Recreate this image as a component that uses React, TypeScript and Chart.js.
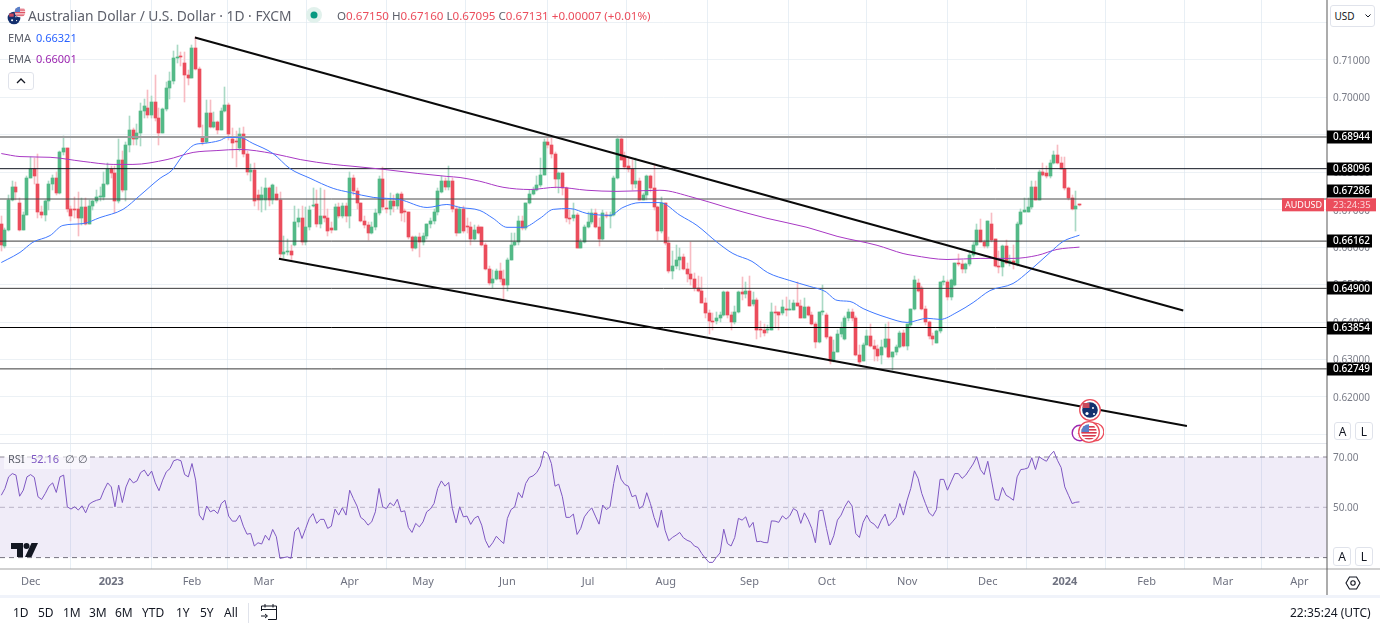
import React, { useEffect, useRef } from "react";
import { Chart, registerables } from "chart.js";

Chart.register(...registerables);

// [open, high, low, close]
const candlesWinter22 = [
  [0.6661,0.6682,0.6591,0.6605],[0.6602,0.6650,0.6597,0.6645],[0.6647,0.6738,0.6642,0.6727],[0.6727,0.6778,0.6722,0.6762],[0.6762,0.6773,0.6727,0.6746],
  [0.6717,0.6730,0.6642,0.6647],[0.6647,0.6693,0.6645,0.6687],[0.6687,0.6789,0.6685,0.6786],[0.6786,0.6842,0.6784,0.6810],[0.6810,0.6837,0.6770,0.6789],
  [0.6770,0.6850,0.6679,0.6693],[0.6695,0.6711,0.6679,0.6685],[0.6685,0.6725,0.6669,0.6722],[0.6722,0.6778,0.6698,0.6770],[0.6770,0.6794,0.6752,0.6784],
  [0.6784,0.6800,0.6738,0.6744],[0.6744,0.6858,0.6741,0.6853],[0.6853,0.6896,0.6845,0.6864],[0.6864,0.6866,0.6693,0.6701],[0.6701,0.6711,0.6671,0.6682],
  [0.6701,0.6735,0.6677,0.6698],[0.6701,0.6746,0.6629,0.6677],[0.6677,0.6730,0.6658,0.6706],[0.6706,0.6730,0.6658,0.6663],[0.6663,0.6725,0.6661,0.6709],
  [0.6709,0.6725,0.6698,0.6722],[0.6722,0.6752,0.6717,0.6733],[0.6733,0.6762,0.6722,0.6735],[0.6735,0.6800,0.6725,0.6770],[0.6770,0.6824,0.6765,0.6810],
  [0.6810,0.6818,0.6784,0.6797],[0.6797,0.6818,0.6690,0.6722],[0.6722,0.6888,0.6719,0.6834],[0.6834,0.6858,0.6746,0.6752],[0.6752,0.6880,0.6722,0.6872],
  [0.6872,0.6949,0.6853,0.6912],[0.6912,0.6917,0.6872,0.6888],[0.6888,0.6928,0.6874,0.6904],[0.6904,0.6984,0.6869,0.6963],[0.6963,0.6997,0.6944,0.6976],
  [0.6973,0.7019,0.6944,0.6952],[0.6952,0.7003,0.6944,0.6987],[0.6987,0.7061,0.6938,0.6944],[0.6944,0.6971,0.6872,0.6906],[0.6906,0.6973,0.6904,0.6968],
  [0.6968,0.7040,0.6965,0.7024],[0.7024,0.7067,0.6995,0.7043],[0.7043,0.7125,0.7037,0.7104],[0.7104,0.7141,0.7093,0.7109],[0.7109,0.7120,0.7085,0.7107],
  [0.7093,0.7120,0.6987,0.7059],[0.7059,0.7072,0.7032,0.7053],[0.7053,0.7139,0.7051,0.7133],[0.7133,0.7160,0.7072,0.7075],[0.7077,0.7080,0.6917,0.6920],
  [0.6893,0.6925,0.6872,0.6880],[0.6880,0.6992,0.6877,0.6957],[0.6957,0.6992,0.6917,0.6922],[0.6922,0.6960,0.6917,0.6933],[0.6933,0.6938,0.6901,0.6914],
];
const candlesSpring23 = [
  [0.6914,0.6971,0.6912,0.6965],[0.6965,0.7029,0.6960,0.6981],[0.6981,0.6984,0.6885,0.6901],[0.6890,0.6917,0.6837,0.6877],[0.6882,0.6909,0.6813,0.6880],
  [0.6866,0.6917,0.6858,0.6901],[0.6901,0.6920,0.6840,0.6850],[0.6850,0.6858,0.6792,0.6800],[0.6800,0.6821,0.6778,0.6805],[0.6805,0.6824,0.6711,0.6722],
  [0.6738,0.6752,0.6698,0.6727],[0.6727,0.6760,0.6693,0.6738],[0.6727,0.6784,0.6698,0.6757],[0.6757,0.6762,0.6711,0.6727],[0.6727,0.6770,0.6714,0.6765],
  [0.6741,0.6760,0.6725,0.6727],[0.6727,0.6746,0.6570,0.6583],[0.6583,0.6631,0.6570,0.6586],[0.6586,0.6623,0.6578,0.6588],[0.6589,0.6605,0.6565,0.6578],
  [0.6607,0.6711,0.6602,0.6666],[0.6666,0.6703,0.6655,0.6679],[0.6679,0.6711,0.6605,0.6613],[0.6613,0.6706,0.6607,0.6653],[0.6653,0.6711,0.6647,0.6698],
  [0.6709,0.6757,0.6706,0.6711],[0.6714,0.6752,0.6655,0.6663],[0.6663,0.6757,0.6650,0.6682],[0.6682,0.6752,0.6666,0.6679],[0.6679,0.6703,0.6629,0.6642],
  [0.6650,0.6666,0.6637,0.6647],[0.6647,0.6714,0.6645,0.6706],[0.6706,0.6717,0.6677,0.6682],[0.6682,0.6717,0.6677,0.6711],[0.6711,0.6717,0.6666,0.6682],
  [0.6682,0.6800,0.6650,0.6786],[0.6786,0.6794,0.6738,0.6749],[0.6749,0.6757,0.6703,0.6717],[0.6717,0.6719,0.6666,0.6669],[0.6671,0.6682,0.6650,0.6658],
  [0.6658,0.6666,0.6618,0.6639],[0.6639,0.6666,0.6634,0.6653],[0.6653,0.6703,0.6647,0.6690],[0.6690,0.6789,0.6685,0.6781],[0.6781,0.6813,0.6698,0.6706],
  [0.6703,0.6725,0.6690,0.6701],[0.6701,0.6744,0.6685,0.6722],[0.6722,0.6738,0.6693,0.6711],[0.6711,0.6744,0.6703,0.6741],[0.6741,0.6746,0.6671,0.6690],
  [0.6695,0.6703,0.6666,0.6693],[0.6693,0.6695,0.6623,0.6626],[0.6626,0.6631,0.6591,0.6599],[0.6599,0.6631,0.6594,0.6626],[0.6626,0.6639,0.6573,0.6613],
  [0.6613,0.6639,0.6605,0.6629],[0.6629,0.6663,0.6623,0.6661],[0.6661,0.6677,0.6650,0.6669],[0.6669,0.6703,0.6661,0.6693],[0.6693,0.6757,0.6687,0.6749],
  [0.6746,0.6789,0.6744,0.6778],[0.6778,0.6784,0.6752,0.6762],[0.6762,0.6818,0.6752,0.6778],[0.6778,0.6784,0.6693,0.6703],[0.6703,0.6709,0.6631,0.6637],
];
const candlesSummer23 = [
  [0.6639,0.6706,0.6637,0.6701],[0.6701,0.6711,0.6637,0.6642],[0.6655,0.6677,0.6639,0.6653],[0.6655,0.6666,0.6607,0.6621],[0.6621,0.6658,0.6618,0.6645],
  [0.6653,0.6658,0.6634,0.6639],[0.6653,0.6655,0.6602,0.6607],[0.6607,0.6610,0.6538,0.6543],[0.6543,0.6549,0.6498,0.6503],[0.6503,0.6538,0.6490,0.6516],
  [0.6516,0.6543,0.6511,0.6535],[0.6535,0.6559,0.6506,0.6516],[0.6514,0.6538,0.6458,0.6500],[0.6500,0.6570,0.6484,0.6567],[0.6567,0.6639,0.6565,0.6605],
  [0.6605,0.6637,0.6602,0.6613],[0.6613,0.6682,0.6607,0.6669],[0.6669,0.6682,0.6647,0.6650],[0.6650,0.6719,0.6647,0.6717],[0.6717,0.6752,0.6714,0.6741],
  [0.6741,0.6760,0.6738,0.6752],[0.6752,0.6789,0.6749,0.6765],[0.6765,0.6837,0.6762,0.6794],[0.6794,0.6890,0.6792,0.6880],[0.6880,0.6898,0.6864,0.6872],
  [0.6872,0.6893,0.6837,0.6850],[0.6850,0.6853,0.6757,0.6781],[0.6781,0.6800,0.6744,0.6797],[0.6797,0.6800,0.6738,0.6757],[0.6757,0.6760,0.6666,0.6677],
  [0.6677,0.6698,0.6661,0.6674],[0.6677,0.6717,0.6671,0.6685],[0.6685,0.6690,0.6597,0.6599],[0.6599,0.6623,0.6597,0.6613],[0.6613,0.6658,0.6610,0.6653],
  [0.6653,0.6693,0.6650,0.6666],[0.6666,0.6703,0.6661,0.6690],[0.6690,0.6703,0.6650,0.6653],[0.6653,0.6677,0.6602,0.6623],[0.6623,0.6698,0.6618,0.6690],
  [0.6685,0.6693,0.6677,0.6682],[0.6682,0.6693,0.6650,0.6687],[0.6685,0.6789,0.6682,0.6784],[0.6784,0.6898,0.6781,0.6888],[0.6888,0.6898,0.6832,0.6834],
  [0.6840,0.6853,0.6808,0.6813],[0.6816,0.6837,0.6800,0.6810],[0.6810,0.6832,0.6752,0.6770],[0.6770,0.6837,0.6757,0.6778],[0.6778,0.6784,0.6725,0.6727],
  [0.6727,0.6744,0.6725,0.6738],[0.6738,0.6792,0.6725,0.6789],[0.6789,0.6792,0.6746,0.6757],[0.6757,0.6821,0.6698,0.6706],[0.6706,0.6711,0.6618,0.6642],
  [0.6642,0.6735,0.6639,0.6717],[0.6717,0.6719,0.6605,0.6610],[0.6610,0.6626,0.6532,0.6535],[0.6535,0.6591,0.6514,0.6551],[0.6551,0.6607,0.6543,0.6565],
];
const candlesAutumn23 = [
  [0.6565,0.6597,0.6538,0.6573],[0.6573,0.6581,0.6538,0.6543],[0.6543,0.6559,0.6506,0.6527],[0.6527,0.6615,0.6498,0.6514],[0.6514,0.6532,0.6484,0.6490],
  [0.6490,0.6522,0.6479,0.6484],[0.6484,0.6519,0.6450,0.6452],[0.6452,0.6463,0.6410,0.6423],[0.6423,0.6431,0.6367,0.6402],[0.6402,0.6423,0.6378,0.6399],
  [0.6402,0.6426,0.6394,0.6412],[0.6412,0.6428,0.6399,0.6420],[0.6420,0.6482,0.6415,0.6479],[0.6479,0.6482,0.6410,0.6418],[0.6418,0.6426,0.6380,0.6399],
  [0.6399,0.6444,0.6396,0.6426],[0.6426,0.6484,0.6423,0.6479],[0.6479,0.6519,0.6458,0.6474],[0.6474,0.6506,0.6463,0.6482],[0.6482,0.6522,0.6442,0.6444],
  [0.6447,0.6479,0.6442,0.6460],[0.6460,0.6463,0.6356,0.6378],[0.6380,0.6404,0.6359,0.6378],[0.6380,0.6394,0.6364,0.6372],[0.6378,0.6391,0.6370,0.6380],
  [0.6380,0.6450,0.6378,0.6426],[0.6426,0.6442,0.6383,0.6423],[0.6426,0.6428,0.6380,0.6420],[0.6423,0.6458,0.6418,0.6439],[0.6433,0.6468,0.6415,0.6431],
  [0.6431,0.6458,0.6431,0.6436],[0.6433,0.6460,0.6431,0.6452],[0.6452,0.6508,0.6442,0.6444],[0.6444,0.6458,0.6410,0.6412],[0.6412,0.6463,0.6410,0.6439],
  [0.6439,0.6442,0.6415,0.6420],[0.6420,0.6426,0.6391,0.6396],[0.6396,0.6399,0.6330,0.6348],[0.6348,0.6428,0.6345,0.6426],[0.6426,0.6500,0.6418,0.6428],
  [0.6420,0.6423,0.6356,0.6361],[0.6361,0.6364,0.6287,0.6297],[0.6297,0.6351,0.6292,0.6321],[0.6321,0.6378,0.6319,0.6367],[0.6367,0.6399,0.6361,0.6383],
  [0.6354,0.6415,0.6351,0.6410],[0.6410,0.6434,0.6404,0.6428],[0.6428,0.6434,0.6404,0.6412],[0.6412,0.6415,0.6308,0.6311],[0.6311,0.6338,0.6289,0.6292],
];
const candlesWinter23 = [
  [0.6297,0.6345,0.6295,0.6340],[0.6340,0.6378,0.6338,0.6364],[0.6364,0.6394,0.6332,0.6335],[0.6335,0.6351,0.6297,0.6327],[0.6327,0.6338,0.6295,0.6308],
  [0.6311,0.6351,0.6287,0.6332],[0.6332,0.6394,0.6330,0.6354],[0.6354,0.6399,0.6303,0.6306],[0.6306,0.6319,0.6271,0.6319],[0.6319,0.6338,0.6313,0.6332],
  [0.6332,0.6375,0.6330,0.6372],[0.6372,0.6378,0.6332,0.6335],[0.6335,0.6396,0.6324,0.6394],[0.6391,0.6436,0.6388,0.6434],[0.6434,0.6522,0.6431,0.6511],
  [0.6503,0.6514,0.6479,0.6484],[0.6490,0.6495,0.6431,0.6434],[0.6436,0.6442,0.6391,0.6399],[0.6399,0.6404,0.6356,0.6364],[0.6364,0.6372,0.6338,0.6356],
  [0.6345,0.6378,0.6343,0.6375],[0.6375,0.6508,0.6372,0.6506],[0.6506,0.6524,0.6500,0.6508],[0.6508,0.6511,0.6458,0.6466],[0.6466,0.6514,0.6458,0.6511],
  [0.6498,0.6559,0.6495,0.6557],[0.6557,0.6583,0.6549,0.6554],[0.6554,0.6565,0.6532,0.6541],[0.6541,0.6559,0.6532,0.6554],[0.6554,0.6591,0.6551,0.6578],
  [0.6578,0.6613,0.6575,0.6605],[0.6605,0.6661,0.6602,0.6647],[0.6647,0.6674,0.6613,0.6615],[0.6615,0.6618,0.6597,0.6602],[0.6602,0.6671,0.6599,0.6669],
  [0.6663,0.6690,0.6615,0.6618],[0.6621,0.6623,0.6546,0.6549],[0.6551,0.6591,0.6530,0.6546],[0.6546,0.6605,0.6524,0.6602],[0.6602,0.6618,0.6554,0.6559],
  [0.6559,0.6578,0.6549,0.6562],[0.6562,0.6605,0.6541,0.6554],[0.6554,0.6666,0.6551,0.6661],[0.6661,0.6701,0.6658,0.6695],[0.6695,0.6730,0.6693,0.6698],
  [0.6695,0.6730,0.6693,0.6706],[0.6706,0.6776,0.6703,0.6762],[0.6762,0.6776,0.6725,0.6727],[0.6727,0.6805,0.6725,0.6800],[0.6800,0.6824,0.6789,0.6794],
  [0.6797,0.6818,0.6786,0.6789],[0.6789,0.6832,0.6786,0.6824],[0.6824,0.6858,0.6821,0.6845],[0.6845,0.6872,0.6821,0.6824],[0.6824,0.6840,0.6808,0.6810],
  [0.6810,0.6840,0.6752,0.6757],[0.6757,0.6760,0.6725,0.6730],[0.6730,0.6738,0.6698,0.6703],[0.6703,0.6749,0.6642,0.6711],[0.67150,0.67160,0.67095,0.67131],
];
const rsiValues = [
  54.8,57.5,62.1,63.4,62.8,54.4,56.8,62.1,63.0,61.9,54.2,53.1,55.5,58.4,59.7,55.9,62.1,62.8,50.2,49.3,50.2,48.9,50.6,47.8,51.3,52.2,52.8,53.2,56.8,59.7,58.1,50.2,58.8,51.9,58.1,61.5,59.7,60.5,63.8,64.8,62.4,64.4,59.7,56.6,60.8,64.1,65.4,68.5,69.0,68.5,63.0,62.1,67.4,60.8,46.9,44.9,50.5,48.2,48.9,47.5,51.5,52.8,46.5,44.5,44.5,46.9,42.5,39.3,39.6,34.6,35.9,35.4,38.9,36.9,41.2,38.3,29.7,30.0,30.3,29.7,40.3,42.0,37.6,41.6,45.6,47.5,43.6,45.2,45.2,41.6,42.5,49.3,46.9,49.8,46.9,56.8,53.5,50.5,46.0,44.9,42.9,44.2,48.2,57.5,50.2,49.5,51.8,50.6,53.2,48.2,48.6,42.0,40.0,43.6,42.2,44.2,48.2,49.3,51.5,57.5,60.5,58.4,59.9,49.5,43.8,50.2,
  46.2,46.5,43.2,45.6,46.5,42.9,36.9,34.0,35.9,38.5,36.9,35.6,45.6,49.1,50.2,55.9,53.8,59.5,61.9,62.5,63.8,66.4,72.3,71.4,67.4,58.4,59.2,54.2,46.0,46.0,47.3,39.2,41.6,46.2,48.2,49.8,46.5,43.3,50.9,49.1,50.2,59.5,66.8,61.2,59.1,58.4,54.2,54.8,49.5,50.6,55.8,51.5,46.0,42.0,48.9,40.9,36.7,38.0,38.9,40.0,37.9,36.9,36.3,34.6,34.0,31.6,29.7,28.1,28.1,30.1,31.9,41.3,35.6,34.6,38.0,45.6,44.9,46.2,42.0,44.0,36.3,36.5,36.0,35.9,44.6,44.5,44.0,46.6,45.3,46.6,49.5,48.6,43.6,47.8,45.2,41.6,35.9,48.6,48.9,41.6,35.0,38.7,44.9,46.9,50.2,52.6,50.5,39.6,38.0,44.0,46.9,44.2,43.3,41.6,44.9,47.3,42.6,44.2,46.0,51.5,46.9,52.8,57.5,64.5,61.5,
  55.5,51.5,47.8,46.5,49.1,61.1,61.1,56.8,60.1,63.4,63.4,61.5,62.8,65.0,67.2,70.1,65.0,63.0,68.3,60.8,53.1,52.8,57.9,54.8,53.9,52.8,62.1,65.0,65.2,65.7,69.7,65.0,70.1,69.1,68.3,70.7,72.3,68.7,65.8,58.1,54.8,51.5,52.0,52.16,
];
const emaFastDays = [0,1.6,5.1,8.6,13.3,16.8,22.3,26.9,33.2,37.8,43.3,46.5,49.5,52.8,55,59.6,61.5,65,68.6,74.1,78.7,84.2,90.5,95.1,101.4,108.7,116.1,121.5,125.1,130.5,134.1,137.9,142.3,146.9,150.5,155.1,159.7,166,169.5,174.2,179.6,185.1,189.7,195.2,199.5,204.7,209,215,220.5,224.6,227.9,231.4,235,241.5,247,252.5,256,260.6,265,269.6,275.9,280.5,286,289.5,294];
const emaFastValues = [0.6559,0.6567,0.6586,0.6613,0.6631,0.6658,0.6663,0.6679,0.6701,0.6738,0.6784,0.6805,0.6845,0.6874,0.6877,0.6885,0.6893,0.6893,0.6877,0.6850,0.6810,0.6784,0.6757,0.6746,0.6733,0.6727,0.6706,0.6714,0.6706,0.6698,0.6677,0.6653,0.6653,0.6677,0.6701,0.6703,0.6690,0.6685,0.6706,0.6719,0.6719,0.6685,0.6658,0.6613,0.6583,0.6562,0.6532,0.6511,0.6495,0.6482,0.6458,0.6455,0.6436,0.6412,0.6399,0.6410,0.6407,0.6426,0.6452,0.6484,0.6503,0.6538,0.6586,0.6615,0.66321];
const emaSlowDays = [0,5.1,13.3,22.3,30.5,35.9,45.2,52.3,58.8,65,74.1,81.5,90.5,95.9,104.1,113.4,121.5,125.1,130.5,136.8,144.2,151.5,159.7,167.9,179.6,188.6,197.9,208.8,219.7,227.9,238.8,245.9,248.6,257.9,266.9,275.9,282.5,287.9,294];
const emaSlowValues = [0.6850,0.6842,0.6840,0.6829,0.6821,0.6821,0.6834,0.6853,0.6858,0.6861,0.6850,0.6834,0.6821,0.6816,0.6808,0.6797,0.6789,0.6786,0.6776,0.6760,0.6754,0.6760,0.6752,0.6749,0.6752,0.6733,0.6706,0.6677,0.6653,0.6629,0.6605,0.6583,0.6578,0.6567,0.6570,0.6570,0.6578,0.6594,0.66001];
const levelValues = [0.68944, 0.68096, 0.67286, 0.66162, 0.649, 0.63854, 0.62749];
const levelColors = ["#9e9e9e", "#131722", "#4a4a4a", "#3a3a3a", "#3a3a3a", "#000000", "#3a3a3a"];
const levelWidths = [2, 1, 1, 1, 1, 1, 1];
const levelLabelShift = [0, 0, -8, 0, 0, 0, 0];
const upperTrendDays = [52.8, 322.3];
const upperTrendValues = [0.716, 0.6431];
const lowerTrendDays = [75.7, 323.3];
const lowerTrendValues = [0.6569, 0.61225];
const rsiLevels = [70, 50, 30];
const priceTicks = [0.72, 0.71, 0.7, 0.69, 0.68, 0.67, 0.66, 0.65, 0.64, 0.63, 0.62, 0.61];
const hiddenPriceTicks = [0.72, 0.61];
const rsiTicks = [70, 50];
const timeTickDays = [8, 30, 52, 71.6, 95, 115, 138, 160, 181.2, 204, 225.1, 247, 269, 290, 312.3, 333.1, 354];
const timeTickLabels = ["Dec", "2023", "Feb", "Mar", "Apr", "May", "Jun", "Jul", "Aug", "Sep", "Oct", "Nov", "Dec", "2024", "Feb", "Mar", "Apr"];
const rangeButtons = ["1D", "5D", "1M", "3M", "6M", "YTD", "1Y", "5Y", "All"];
const rangeButtonLeft = [13, 38, 63, 89, 115, 142, 176, 200, 224];

const FONT = '"Noto Sans", sans-serif';
const UP = "#53b987";
const DOWN = "#eb4d5c";
const UP_WICK = "#aad9c5";
const DOWN_WICK = "#f7bcc3";
const X_MIN = -0.354;
const X_MAX = 361.5;
const lastPriceLabel = 0.67131;

const allCandles = [...candlesWinter22, ...candlesSpring23, ...candlesSummer23, ...candlesAutumn23, ...candlesWinter23];

function zip(xs: number[], ys: number[]) {
  return xs.map((x, i) => ({ x, y: ys[i] }));
}

// Snap candle rectangles to whole pixels, as the original renderer does.
const snapCandles = {
  id: "snapCandles",
  beforeDatasetsDraw(chart: any) {
    chart.data.datasets.forEach((d: any, i: number) => {
      if (d.type !== "bar") return;
      chart.getDatasetMeta(i).data.forEach((el: any) => {
        el.x = Math.floor(el.x) + 0.5;
        el.y = Math.round(el.y);
        el.base = Math.round(el.base);
      });
    });
  },
};

const chrome = {
  id: "chrome",
  afterDraw(chart: any) {
    const { ctx, chartArea, scales } = chart;
    const right = chartArea.right;
    ctx.save();
    ctx.fillStyle = "#e3e6ec";
    ctx.fillRect(0, 443, right, 1);
    ctx.fillStyle = "#a3a3a3";
    ctx.fillRect(0, chartArea.bottom - 0.5, right + 53, 1);
    ctx.fillStyle = "#5a5a5a";
    ctx.fillRect(right - 0.5, 0, 1, 595);
    ctx.fillStyle = "#f0f3fa";
    ctx.fillRect(0, 595, 1380, 3);
    ctx.textBaseline = "middle";
    ctx.textAlign = "left";
    // RSI axis labels
    ctx.font = `10px ${FONT}`;
    ctx.fillStyle = "#7a7d88";
    rsiTicks.forEach((v) => {
      ctx.fillText(v.toFixed(2), right + 6, scales.yRsi.getPixelForValue(v) + 1);
    });
    // level badges
    ctx.font = `500 10px ${FONT}`;
    levelValues.forEach((v, i) => {
      const y = scales.y.getPixelForValue(v) + levelLabelShift[i];
      ctx.fillStyle = "#000000";
      ctx.fillRect(right, Math.round(y) - 6.5, 45, 13);
      ctx.fillStyle = "#ffffff";
      ctx.fillText(v.toFixed(5), right + 6, y + 0.5);
    });
    // last price badge
    const ly = scales.y.getPixelForValue(lastPriceLabel);
    ctx.fillStyle = DOWN;
    ctx.fillRect(1282, ly - 6.5, 42, 13);
    ctx.fillRect(1326, ly - 6.5, 50, 13);
    ctx.font = `9px ${FONT}`;
    ctx.fillStyle = "#ffffff";
    ctx.fillText("AUDUSD", 1285, ly + 0.5);
    ctx.font = `9.5px ${FONT}`;
    ctx.fillStyle = "#fbd5d9";
    ctx.fillText("23:24:35", 1333, ly + 0.5);
    ctx.restore();
  },
};

function Txt({ x, y, color = "#5d606b", size = 12, children, weight = 400 }: any) {
  return (
    <span style={{ position: "absolute", left: x, top: y, color, fontSize: size, fontFamily: FONT, fontWeight: weight, lineHeight: "16px", whiteSpace: "pre" }}>
      {children}
    </span>
  );
}

function Box({ x, y, w, h, children }: any) {
  return (
    <div style={{ position: "absolute", left: x, top: y, width: w, height: h, boxSizing: "border-box", border: "1px solid #e0e3eb", borderRadius: 3, background: "#fff", color: "#131722", fontFamily: FONT, fontSize: 12, display: "flex", alignItems: "center", justifyContent: "center" }}>
      {children}
    </div>
  );
}

function AusFlag({ cx, cy, r, ring }: any) {
  return (
    <svg style={{ position: "absolute", left: cx - r - 1, top: cy - r - 1 }} width={2 * r + 2} height={2 * r + 2} viewBox="-11 -11 22 22">
      {ring && <circle r="10.3" fill="#fff" stroke="#eb4d5c" strokeWidth="1.3" />}
      <circle r={ring ? 7.8 : 10} fill="#14306e" />
      <rect x="-7.5" y="-7" width="7" height="5" fill="#c9485b" />
      <circle cx="3" cy="-2" r="1" fill="#fff" />
      <circle cx="-3" cy="3.5" r="1.6" fill="#fff" />
      <circle cx="4" cy="4" r="1" fill="#fff" />
    </svg>
  );
}

function UsFlag({ cx, cy, r, ring }: any) {
  const stripes = [-6, -3, 0, 3, 6];
  return (
    <svg style={{ position: "absolute", left: cx - r - 1, top: cy - r - 1 }} width={2 * r + 2} height={2 * r + 2} viewBox="-11 -11 22 22">
      {ring && <circle r="10.3" fill="#fff" stroke="#eb4d5c" strokeWidth="1.3" />}
      <clipPath id={`us${cx}`}><circle r={ring ? 7.8 : 10} /></clipPath>
      <g clipPath={`url(#us${cx})`}>
        <rect x="-10" y="-10" width="20" height="20" fill="#fff" />
        {stripes.map((s) => <rect key={s} x="-10" y={s} width="20" height="1.6" fill="#d8394c" />)}
        <rect x="-10" y="-10" width="10" height="10" fill="#5b80c8" />
      </g>
    </svg>
  );
}

export default function App() {
  const ref = useRef<HTMLCanvasElement>(null);
  useEffect(() => {
    const rows = allCandles.map((c, i) => ({ i, o: c[0], h: c[1], l: c[2], c: c[3] }));
    const ups = rows.filter((r) => r.c >= r.o);
    const downs = rows.filter((r) => r.c < r.o);
    const bar = (label: string, color: string, thick: number, data: any[], order: number) => ({
      type: "bar" as const, label, data, backgroundColor: color, barThickness: thick, grouped: false, minBarLength: 1, borderWidth: 0, xAxisID: "x", yAxisID: "y", order,
    });
    const line = (label: string, data: any[], color: string, width: number, order: number, yAxisID = "y", extra: any = {}) => ({
      type: "line" as const, label, data, borderColor: color, borderWidth: width, pointRadius: 0, tension: 0, xAxisID: "x", yAxisID, order, fill: false, ...extra,
    });
    const span = (v: number) => [{ x: X_MIN, y: v }, { x: X_MAX, y: v }];
    const noPad = (s: any) => { s.paddingTop = 0; s.paddingBottom = 0; s.paddingLeft = 0; s.paddingRight = 0; };
    const chart = new Chart(ref.current!, {
      type: "bar",
      data: {
        datasets: [
          line("RSI band", span(rsiLevels[0]), "#8d8796", 1, 30, "yRsi", { fill: { target: { value: rsiLevels[2] } }, backgroundColor: "rgba(126,87,194,0.115)", borderDash: [5, 4] }),
          line("RSI mid", span(rsiLevels[1]), "#b9b2c6", 1, 29, "yRsi", { borderDash: [5, 4] }),
          line("RSI low", span(rsiLevels[2]), "#77737f", 1, 29, "yRsi", { borderDash: [5, 4] }),
          line("RSI", rsiValues.map((v, i) => ({ x: i, y: v })), "#7e57c2", 1, 2, "yRsi"),
          bar("Wick up", UP_WICK, 1, ups.map((r) => ({ x: r.i, y: [r.l, r.h] })), 21),
          bar("Wick down", DOWN_WICK, 1, downs.map((r) => ({ x: r.i, y: [r.l, r.h] })), 21),
          bar("Up", UP, 3, ups.map((r) => ({ x: r.i, y: [r.o, r.c] })), 20),
          bar("Down", DOWN, 3, downs.map((r) => ({ x: r.i, y: [r.c, r.o] })), 20),
          ...levelValues.map((v, i) => line(`Level ${v}`, span(v), levelColors[i], levelWidths[i], 10)),
          line("EMA fast", zip(emaFastDays, emaFastValues), "#3f78ff", 1, 5, "y", { cubicInterpolationMode: "monotone" }),
          line("EMA slow", zip(emaSlowDays, emaSlowValues), "#a838c4", 1, 5, "y", { cubicInterpolationMode: "monotone" }),
          line("Upper trend", zip(upperTrendDays, upperTrendValues), "#0a0a0a", 2, 1),
          line("Lower trend", zip(lowerTrendDays, lowerTrendValues), "#0a0a0a", 2, 1),
        ] as any,
      },
      options: {
        responsive: false,
        animation: false,
        events: [],
        layout: { padding: 0 },
        plugins: { legend: { display: false }, tooltip: { enabled: false } },
        scales: {
          x: {
            type: "linear",
            min: X_MIN,
            max: X_MAX,
            offset: false,
            grid: { color: "rgba(214,226,236,0.55)", drawTicks: false },
            border: { display: false },
            afterBuildTicks: (s: any) => { s.ticks = timeTickDays.map((value) => ({ value })); },
            afterFit: (s: any) => { s.height = 58; noPad(s); },
            ticks: {
              autoSkip: false,
              maxRotation: 0,
              padding: 6,
              color: "#6f7280",
              font: (c: any) => {
                const label = timeTickLabels[c.index];
                const year = label === "2023" || label === "2024";
                return { family: FONT, size: 11, weight: year ? "bold" : "normal" };
              },
              callback: (_v: any, i: number) => timeTickLabels[i],
            },
          },
          y: {
            position: "right",
            min: 0.70 - 471.6 / 3744,
            max: 0.70 + 97.4 / 3744,
            grid: { color: "rgba(224,232,238,0.6)", drawTicks: false },
            border: { display: false },
            afterBuildTicks: (s: any) => { s.ticks = priceTicks.map((value) => ({ value })); },
            afterFit: (s: any) => { s.width = 53; noPad(s); },
            ticks: {
              autoSkip: false,
              padding: 6,
              labelOffset: 1,
              color: "#7a7d88",
              font: { family: FONT, size: 10 },
              callback: (v: any) => (hiddenPriceTicks.includes(v) ? "" : Number(v).toFixed(5)),
            },
          },
          yRsi: {
            display: false,
            position: "right",
            min: 70 - (569 - 457) / 2.515,
            max: 70 + 457 / 2.515,
          },
        },
      } as any,
      plugins: [snapCandles, chrome],
    });
    return () => chart.destroy();
  }, []);

  return (
    <div style={{ position: "absolute", left: 0, top: 0, width: 1380, height: 627, overflow: "hidden", background: "#fff" }}>
      <canvas ref={ref} width={1380} height={627} style={{ display: "block", width: 1380, height: 627 }} />

      <AusFlag cx={14} cy={18} r={6} />
      <UsFlag cx={20} cy={12} r={5} />
      <Txt x={28} y={8} size={13.8}>Australian Dollar / U.S. Dollar · 1D · FXCM</Txt>
      <svg style={{ position: "absolute", left: 306, top: 7 }} width="16" height="16">
        <circle cx="8" cy="8" r="8" fill="#e1f1ec" />
        <circle cx="8" cy="8" r="3.5" fill="#089981" />
      </svg>
      <Txt x={337} y={8} size={11.6}>O<span style={{ color: DOWN }}>0.67150</span> H<span style={{ color: DOWN }}>0.67160</span> L<span style={{ color: DOWN }}>0.67095</span> C<span style={{ color: DOWN }}>0.67131</span> <span style={{ color: DOWN }}>+0.00007 (+0.01%)</span></Txt>

      <Txt x={8} y={30} size={11}>EMA</Txt>
      <Txt x={36} y={30} size={11} color="#2962ff">0.66321</Txt>
      <Txt x={8} y={51} size={11}>EMA</Txt>
      <Txt x={36} y={51} size={11} color="#9c27b0">0.66001</Txt>
      <Box x={8} y={72} w={26} h={18}>
        <svg width="10" height="6"><path d="M1 5 L5 1 L9 5" fill="none" stroke="#131722" strokeWidth="1.3" /></svg>
      </Box>

      <Box x={1330} y={5} w={45} h={22}>
        <span style={{ fontSize: 10, marginRight: 10 }}>USD</span>
        <svg width="6" height="4"><path d="M0.5 0.5 L3 3 L5.5 0.5" fill="none" stroke="#131722" /></svg>
      </Box>
      <Box x={1334} y={422} w={17} h={18}>A</Box>
      <Box x={1355} y={422} w={18} h={18}>L</Box>
      <Box x={1333} y={547} w={18} h={19}>A</Box>
      <Box x={1355} y={547} w={18} h={19}>L</Box>

      <div style={{ position: "absolute", left: 4, top: 452, width: 86, height: 17, background: "rgba(255,255,255,0.55)" }} />
      <Txt x={8} y={451} size={11}>RSI</Txt>
      <Txt x={31} y={451} size={11} color="#7e57c2">52.16</Txt>
      <Txt x={65} y={451} size={11}>∅</Txt>
      <Txt x={78} y={451} size={11}>∅</Txt>

      <svg style={{ position: "absolute", left: 10, top: 542 }} width="29" height="16" viewBox="0 0 29 16">
        <path d="M1 1 H13 V15 H7 V7 H1 Z" fill="#131722" />
        <circle cx="16.5" cy="4" r="3" fill="#131722" />
        <path d="M21.5 1 H28 L21.5 15 H15 Z" fill="#131722" />
      </svg>

      <AusFlag cx={1090} cy={410} r={10} ring />
      <svg style={{ position: "absolute", left: 1071, top: 424 }} width="18" height="18" viewBox="0 0 18 18">
        <circle cx="9" cy="9" r="7.8" fill="#fff" stroke="#9c27b0" strokeWidth="1.4" />
        <path d="M11 4 L6.5 10 H9 L7.5 14 L12 8 H9.5 Z" fill="#9c27b0" />
      </svg>
      <svg style={{ position: "absolute", left: 1084, top: 422 }} width="20" height="20" viewBox="0 0 20 20">
        <circle cx="11" cy="10" r="8.8" fill="#fff" stroke="#eb4d5c" strokeWidth="1.2" />
      </svg>
      <UsFlag cx={1089} cy={432} r={10} ring />

      <svg style={{ position: "absolute", left: 1345, top: 575 }} width="16" height="16" viewBox="0 0 16 16">
        <path d="M4.5 2 H11.5 L15 8 L11.5 14 H4.5 L1 8 Z" fill="none" stroke="#131722" strokeWidth="1.1" />
        <circle cx="8" cy="8" r="2.2" fill="none" stroke="#131722" strokeWidth="1.1" />
      </svg>

      {rangeButtons.map((b, i) => (
        <Txt key={b} x={rangeButtonLeft[i]} y={605} size={12} color="#131722">{b}</Txt>
      ))}
      <div style={{ position: "absolute", left: 248, top: 603, width: 1, height: 20, background: "#e0e3eb" }} />
      <svg style={{ position: "absolute", left: 260, top: 603 }} width="18" height="18" viewBox="0 0 18 18">
        <path d="M1.5 8 V3 H16.5 V16.5 H8 M1.5 6.5 H16.5 M5 1 V4.5 M13 1 V4.5 M1 13 H7 M5 11 L7.5 13 L5 15" fill="none" stroke="#131722" strokeWidth="1" />
      </svg>
      <Txt x={1290} y={605} size={12} color="#131722">22:35:24 (UTC)</Txt>
    </div>
  );
}
